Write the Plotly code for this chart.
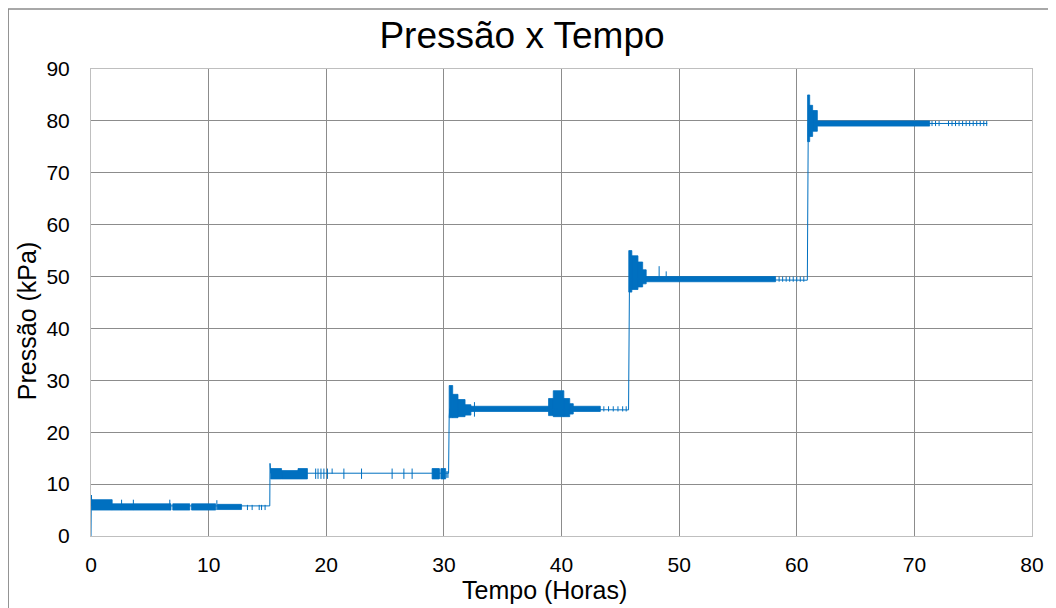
import plotly.graph_objects as go

# ---------------- data ----------------
# main step signal (time in hours, pressure in kPa)
base_t = [0, 0.03, 0.08, 15.2, 15.22, 15.28, 30.4, 30.45, 30.5, 45.7, 45.72, 45.78, 60.9, 60.92, 60.98, 76.2]
base_p = [0, 7.9, 5.8, 5.8, 14.0, 12.1, 12.1, 22.8, 24.5, 24.3, 47.0, 49.5, 49.3, 75.5, 79.5, 79.5]

# dense oscillation bands (envelope of the noise): start, end, low, high
band_t0 = [0.05, 1.8, 6.95, 8.55, 10.75,
           15.28, 16.2, 17.6, 29.0, 29.75,
           30.45, 30.75, 31.2, 31.8, 32.3, 38.9, 39.3, 40.2, 40.7, 41.0,
           45.72, 45.98, 46.5, 46.9, 47.2,
           60.92, 61.1, 61.35, 61.75]
band_t1 = [1.8, 6.8, 8.4, 10.6, 12.8,
           16.2, 17.6, 18.4, 29.6, 30.15,
           30.75, 31.2, 31.8, 32.3, 39.0, 39.3, 40.2, 40.7, 41.0, 43.3,
           45.98, 46.5, 46.9, 47.2, 58.2,
           61.1, 61.35, 61.75, 71.3]
band_lo = [5.0, 5.0, 5.0, 5.0, 5.1,
           11.0, 11.0, 11.0, 11.0, 11.0,
           22.8, 22.8, 23.0, 23.3, 24.0, 23.2, 23.0, 23.0, 23.5, 24.0,
           47.0, 47.5, 48.0, 48.6, 49.0,
           76.0, 77.0, 78.0, 79.0]
band_hi = [7.0, 6.2, 6.2, 6.2, 6.1,
           13.0, 12.6, 13.0, 13.0, 13.0,
           29.0, 27.3, 26.3, 25.3, 25.0, 26.5, 28.0, 26.5, 25.5, 25.0,
           55.0, 54.0, 52.8, 51.3, 50.0,
           85.0, 83.0, 82.0, 80.0]

# isolated spikes: time, low, high
spike_t = [2.6, 3.6, 6.7, 10.7, 13.3, 13.7, 14.3, 14.5, 14.8,
           19.1, 19.3, 19.55, 19.8, 20.1, 20.5, 21.5, 23.0, 25.6, 26.6, 27.3, 29.65, 30.25, 30.35,
           32.6, 43.6, 44.0, 44.4, 44.8, 45.2, 45.5,
           48.3, 48.9, 58.5, 58.8, 59.1, 59.4, 59.7, 60.0, 60.3, 60.6,
           71.5, 71.8, 72.1, 72.9, 73.2, 73.5, 73.8, 74.1, 74.4, 74.7, 75.0, 75.3, 75.6, 75.9, 76.15]
spike_lo = [5.0, 5.0, 5.0, 5.0, 5.0, 5.0, 5.0, 5.0, 5.0,
            11.0, 11.0, 11.0, 11.0, 11.0, 12.0, 11.0, 11.0, 11.0, 11.0, 11.0, 11.0, 11.2, 11.2,
            23.0, 24.0, 24.0, 24.0, 24.0, 24.0, 24.0,
            49.5, 49.5, 49.0, 49.0, 49.0, 49.0, 49.0, 49.0, 49.0, 49.0,
            79.0, 79.0, 79.0, 79.0, 79.0, 79.0, 79.0, 79.0, 79.0, 79.0, 79.0, 79.0, 79.0, 79.0, 79.0]
spike_hi = [7.0, 7.0, 7.0, 6.9, 6.0, 6.0, 6.0, 6.0, 6.0,
            13.0, 13.0, 13.0, 13.0, 13.0, 13.0, 13.0, 13.0, 13.0, 13.0, 13.0, 13.0, 12.5, 12.5,
            25.8, 25.0, 25.0, 25.0, 25.0, 25.0, 25.0,
            52.0, 51.0, 50.0, 50.0, 50.0, 50.0, 50.0, 50.0, 50.0, 50.0,
            80.0, 80.0, 80.0, 80.0, 80.0, 80.0, 80.0, 80.0, 80.0, 80.0, 80.0, 80.0, 80.0, 80.0, 80.0]

x_ticks = [0, 10, 20, 30, 40, 50, 60, 70, 80]
y_ticks = [0, 10, 20, 30, 40, 50, 60, 70, 80, 90]

BLUE = "#0070C0"

# ---------------- build traces ----------------
bx, by = [], []
for t0, t1, lo, hi in zip(band_t0, band_t1, band_lo, band_hi):
    bx += [t0, t1, t1, t0, t0, None]
    by += [lo, lo, hi, hi, lo, None]

sx, sy = [], []
for t, lo, hi in zip(spike_t, spike_lo, spike_hi):
    sx += [t, t, None]
    sy += [lo, hi, None]

fig = go.Figure()
fig.add_trace(go.Scatter(x=bx, y=by, mode="lines", fill="toself", fillcolor=BLUE,
                         line=dict(color=BLUE, width=0.8), hoverinfo="skip"))
fig.add_trace(go.Scatter(x=sx, y=sy, mode="lines", line=dict(color=BLUE, width=1),
                         hoverinfo="skip"))
fig.add_trace(go.Scatter(x=base_t, y=base_p, mode="lines", line=dict(color=BLUE, width=1)))

FONT = "Arial, 'Liberation Sans', sans-serif"

# the page body adds an 8px offset; the figure is sized so that it fills the window
OFF = 8
fig.update_layout(
    width=1056 - OFF, height=608 - OFF,
    margin=dict(l=91 - OFF, r=22, t=69 - OFF, b=72),
    paper_bgcolor="white", plot_bgcolor="white",
    showlegend=False,
    font=dict(family=FONT, color="black"),
    title=dict(text="Pressão x Tempo", x=(522 - OFF) / (1056 - OFF), xanchor="center",
               y=1 - (35 - OFF) / (608 - OFF), yanchor="middle",
               font=dict(size=37, color="black", family=FONT)),
)
fig.update_xaxes(range=[0, 80], tickvals=x_ticks, showgrid=True, gridcolor="#8c8c8c", gridwidth=1,
                 zeroline=False, showline=True, linecolor="#bfbfbf", linewidth=1, mirror=True,
                 ticks="outside", ticklen=10, tickcolor="rgba(0,0,0,0)",
                 tickfont=dict(size=21, color="black", family=FONT))
fig.update_yaxes(range=[0, 90], tickvals=y_ticks, showgrid=True, gridcolor="#8c8c8c", gridwidth=1,
                 zeroline=False, showline=True, linecolor="#bfbfbf", linewidth=1, mirror=True,
                 ticks="outside", ticklen=16, tickcolor="rgba(0,0,0,0)",
                 tickfont=dict(size=21, color="black", family=FONT))

fig.add_annotation(text="Tempo (Horas)", xref="paper", yref="paper",
                   x=(545.5 - 91) / 943, y=(536 - 590) / 467, xanchor="center", yanchor="middle",
                   showarrow=False, font=dict(size=25, color="black", family=FONT))
fig.add_annotation(text="Pressão (kPa)", xref="paper", yref="paper", textangle=-90,
                   x=(27 - 91) / 943, y=(536 - 321) / 467, xanchor="center", yanchor="middle",
                   showarrow=False, font=dict(size=25, color="black", family=FONT))

# outer chart border
fig.add_shape(type="rect", xref="paper", yref="paper",
              x0=(8 - 91) / 943, x1=(1070 - 91) / 943,
              y0=(536 - 620) / 467, y1=(536 - 9) / 467,
              line=dict(color="#8c8c8c", width=1.5), fillcolor="rgba(0,0,0,0)", layer="below")

fig.write_html("out.html")
